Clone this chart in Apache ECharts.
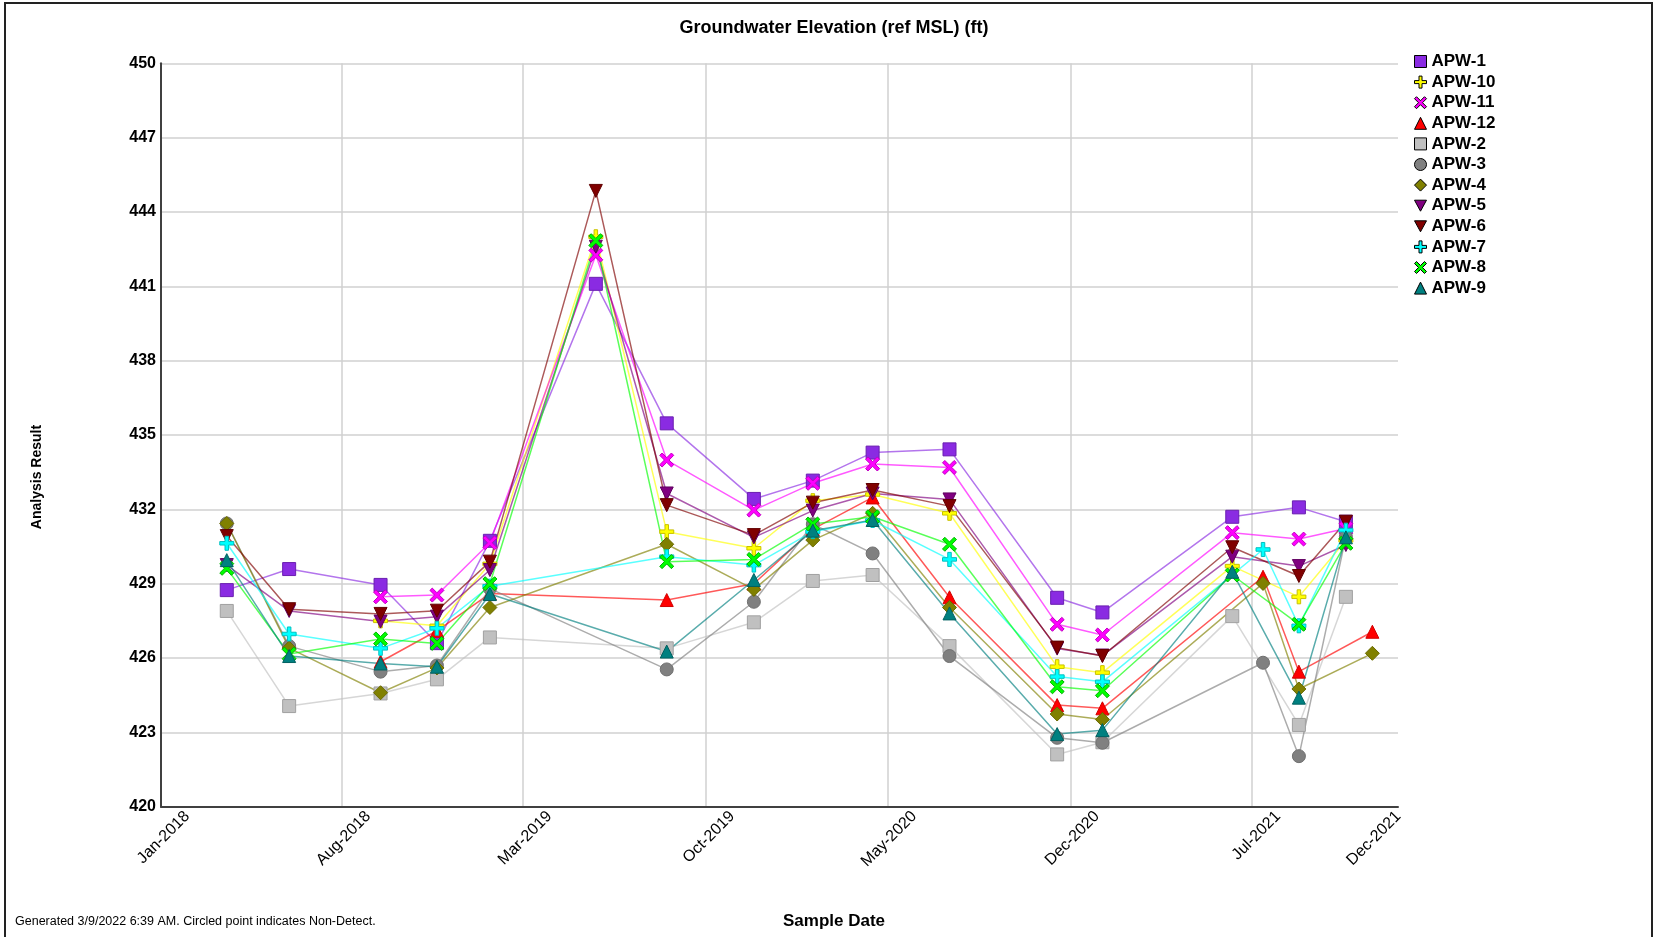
<!DOCTYPE html>
<html><head><meta charset="utf-8">
<script src="https://cdn.jsdelivr.net/npm/echarts@6/dist/echarts.min.js"></script>
<style>html,body{margin:0;padding:0;background:#fff}#chart{width:1658px;height:937px}</style>
</head><body><div id="chart"></div>
<script>
// ---- data ----
const sampleDates = ['2018-03-19','2018-05-31','2018-09-15','2018-11-20','2019-01-21','2019-05-25','2019-08-16','2019-11-26','2020-02-03','2020-04-13','2020-07-12','2020-11-15','2021-01-07','2021-06-08','2021-07-14','2021-08-25','2021-10-19','2021-11-19'];
const apw1  = [428.74,429.59,428.95,426.60,430.73,441.10,435.47,432.42,433.16,434.29,434.42,428.43,427.84,431.70,null,432.08,431.50,null];
const apw10 = [null,null,427.50,427.30,429.80,443.00,431.10,430.43,432.35,432.60,431.84,425.65,425.41,429.71,null,428.47,430.75,null];
const apw11 = [null,null,428.47,428.54,430.65,442.26,433.99,431.97,433.05,433.83,433.69,427.36,426.93,431.06,null,430.80,431.23,null];
const apw12 = [null,null,425.85,427.10,428.60,null,428.34,429.00,431.20,432.48,428.45,424.10,423.97,null,429.28,425.45,null,427.06];
const apw2  = [427.90,424.06,424.57,425.14,426.83,null,426.39,427.44,429.11,429.35,426.48,422.11,422.60,427.69,null,423.30,428.47,null];
const apw3  = [431.43,426.48,425.45,425.70,428.80,null,425.54,428.27,431.40,430.22,426.08,422.78,422.58,null,425.81,422.04,430.90,null];
const apw4  = [431.43,426.40,424.60,425.60,428.04,null,430.59,428.77,430.76,431.84,428.04,423.74,423.52,null,429.01,424.75,null,426.19];
const apw5  = [429.75,427.90,427.47,427.67,429.55,442.60,432.64,430.87,431.95,432.64,432.40,426.38,426.10,430.09,null,429.71,430.56,null];
const apw6  = [430.92,427.97,427.78,427.91,429.89,444.85,432.17,430.96,432.27,432.78,432.13,426.42,426.08,430.47,null,429.31,431.50,null];
const apw7  = [430.63,426.97,426.39,427.20,428.90,null,430.09,429.75,431.10,431.55,429.98,425.25,425.04,null,430.38,427.30,431.16,null];
const apw8  = [429.62,426.16,426.77,426.59,429.00,442.84,429.89,429.98,431.41,431.70,430.59,424.84,424.68,429.35,null,427.36,430.63,null];
const apw9  = [429.95,426.08,425.78,425.65,428.58,null,426.26,429.15,431.14,431.57,427.80,422.93,423.09,429.48,null,424.40,430.87,null];

const tickDates  = ['2018-01-01','2018-08-01','2019-03-01','2019-10-01','2020-05-01','2020-12-01','2021-07-01','2021-11-19'];
const tickLabels = ['Jan-2018','Aug-2018','Mar-2019','Oct-2019','May-2020','Dec-2020','Jul-2021','Dec-2021'];
const gridDates  = tickDates.slice(0, 7);
const xMin = '2018-01-01', xMax = '2021-12-19';
const yMin = 420, yMax = 450, yStep = 3;

// ---- helpers ----
function ts(s){const p=s.split('-').map(Number);return Date.UTC(p[0],p[1]-1,p[2]);}
const PLUS  = 'path://M4.5,0H7.5V4.5H12V7.5H7.5V12H4.5V7.5H0V4.5H4.5Z';
const CROSS = 'path://M0,2L2,0L6,4L10,0L12,2L8,6L12,10L10,12L6,8L2,12L0,10L4,6Z';
const DOWN  = 'path://M0,0L12,0L6,11Z';

const wells = [
  {name:'APW-1',  v:apw1,  color:'#8A2BE2', border:'#6a1fb0', symbol:'rect',     size:13},
  {name:'APW-10', v:apw10, color:'#FFFF00', border:'#c8c000', symbol:PLUS,       size:14},
  {name:'APW-11', v:apw11, color:'#FF00FF', border:'#c000c0', symbol:CROSS,      size:14},
  {name:'APW-12', v:apw12, color:'#FF0000', border:'#d00000', symbol:'triangle', size:13},
  {name:'APW-2',  v:apw2,  color:'#C0C0C0', border:'#a0a0a0', symbol:'rect',     size:13},
  {name:'APW-3',  v:apw3,  color:'#808080', border:'#707070', symbol:'circle',   size:13},
  {name:'APW-4',  v:apw4,  color:'#808000', border:'#6a6a00', symbol:'diamond',  size:14},
  {name:'APW-5',  v:apw5,  color:'#800080', border:'#600060', symbol:DOWN,       size:13},
  {name:'APW-6',  v:apw6,  color:'#800000', border:'#600000', symbol:DOWN,       size:13},
  {name:'APW-7',  v:apw7,  color:'#00FFFF', border:'#00c0c0', symbol:PLUS,       size:14},
  {name:'APW-8',  v:apw8,  color:'#00FF00', border:'#00b000', symbol:CROSS,      size:14},
  {name:'APW-9',  v:apw9,  color:'#008080', border:'#006060', symbol:'triangle', size:13}
];

const tickTs = tickDates.map(ts);
const FONT = 'Liberation Sans';

const chart = echarts.init(document.getElementById('chart'), null, {renderer:'canvas'});
chart.setOption({
  animation:false,
  backgroundColor:'#fff',
  grid:{left:161, right:260, top:63.3, bottom:130.3},
  xAxis:{
    type:'value', min:ts(xMin), max:ts(xMax), scale:true,
    axisLine:{show:true, lineStyle:{color:'#404040', width:2}},
    axisTick:{show:false, customValues: gridDates.map(ts)},
    splitLine:{show:true, lineStyle:{color:'#d0d0d0', width:1.5}},
    axisLabel:{
      customValues: tickTs,
      formatter: function(v){
        for (let i=0;i<tickTs.length;i++){ if (Math.abs(tickTs[i]-v) < 86400000) return tickLabels[i]; }
        return '';
      },
      rotate:45, align:'right', verticalAlign:'top', margin:-19, padding:[29,0,0,0],
      fontSize:16, color:'#000', fontFamily:FONT
    }
  },
  yAxis:{
    type:'value', min:yMin, max:yMax, interval:yStep,
    axisLine:{show:true, lineStyle:{color:'#404040', width:2}},
    axisTick:{show:false},
    splitLine:{show:true, lineStyle:{color:'#d0d0d0', width:1.5}},
    axisLabel:{fontSize:16, fontWeight:'bold', color:'#000', margin:5, fontFamily:FONT}
  },
  legend:{
    orient:'vertical', left:1409, top:48, itemWidth:12, itemHeight:12, itemGap:3.6,
    selectedMode:false,
    itemStyle:{borderColor:'#000', borderWidth:1},
    textStyle:{fontSize:17, fontWeight:'bold', color:'#000', fontFamily:FONT, lineHeight:17},
    data: wells.map(w => ({name:w.name, icon:w.symbol}))
  },
  series: wells.map(w => ({
    name:w.name, type:'line',
    data: sampleDates.map((d,i)=>[ts(d), w.v[i]]).filter(p => p[1] !== null),
    symbol:w.symbol, symbolSize:w.size,
    itemStyle:{color:w.color, borderColor:w.border, borderWidth:1},
    lineStyle:{color:w.color, width:1.5, opacity:0.65},
    emphasis:{disabled:true}
  })),
  graphic:[
    {type:'rect', silent:true, shape:{x:5, y:3, width:1647, height:960}, style:{fill:'none', stroke:'#222', lineWidth:2}},
    {type:'text', x:834, y:28.5, silent:true, style:{text:'Groundwater Elevation (ref MSL) (ft)', fontSize:18, fontWeight:'bold', fontFamily:FONT, fill:'#000', align:'center', verticalAlign:'middle'}},
    {type:'text', x:834, y:921, silent:true, style:{text:'Sample Date', fontSize:17, fontWeight:'bold', fontFamily:FONT, fill:'#000', align:'center', verticalAlign:'middle'}},
    {type:'text', x:37, y:477, rotation:Math.PI/2, silent:true, style:{text:'Analysis Result', fontSize:14, fontWeight:'bold', fontFamily:FONT, fill:'#000', align:'center', verticalAlign:'middle'}},
    {type:'text', x:15, y:922, silent:true, style:{text:'Generated 3/9/2022 6:39 AM. Circled point indicates Non-Detect.', fontSize:12.5, fontFamily:FONT, fill:'#000', align:'left', verticalAlign:'middle'}}
  ]
});
</script></body></html>
